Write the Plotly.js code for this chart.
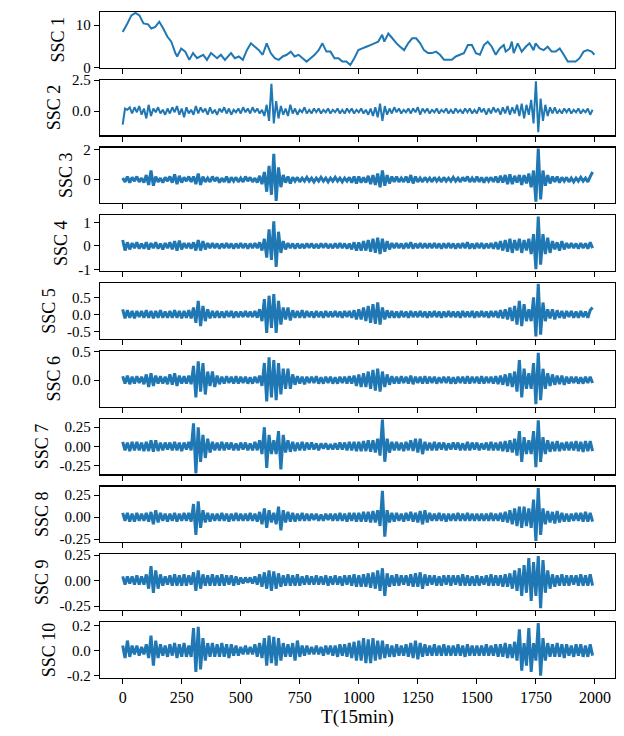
<!DOCTYPE html>
<html>
<head>
<meta charset="utf-8">
<script src="https://cdn.plot.ly/plotly-3.0.1.min.js"></script>
<style>html,body{margin:0;padding:0;background:#fff;}#chart{width:624px;height:736px;}</style>
</head>
<body>
<div id="chart"></div>
<script>
// ---------- DATA ----------
const xLabel = "T(15min)";
const seriesNames = ["SSC 1","SSC 2","SSC 3","SSC 4","SSC 5","SSC 6","SSC 7","SSC 8","SSC 9","SSC 10"];
const xTicks = [0,250,500,750,1000,1250,1500,1750,2000];

// SSC 1 (smooth component) read at irregular time positions
const ssc1X = [0,20,37,54,71,88,108,121,138,155,172,189,206,223,231,248,265,282,298,315,341,357,374,400,416,433,459,475,492,509,526,543,560,577,593,610,627,644,661,678,695,712,728,745,762,779,796,813,830,846,863,880,897,914,930,947,964,981,998,1015,1032,1049,1066,1082,1099,1108,1125,1142,1160,1175,1192,1209,1226,1243,1260,1276,1293,1310,1327,1344,1361,1378,1394,1411,1428,1445,1462,1479,1496,1513,1530,1546,1563,1580,1597,1614,1622,1639,1648,1656,1673,1690,1707,1723,1740,1749,1766,1783,1800,1817,1834,1851,1868,1885,1902,1918,1935,1952,1969,1986,1998];
const ssc1Y = [8.4,10.4,12.3,12.9,12.3,10.4,10.2,9.2,9.6,10.8,9.2,7.3,6.1,3.4,2.6,4.5,3.75,1.8,3.4,2.2,3.0,1.8,3.4,2.2,3.0,1.8,3.4,2.2,2.6,1.8,4.1,5.7,4.9,4.1,3.0,5.7,3.4,2.2,1.8,2.6,3.0,3.75,2.6,3.0,2.2,1.4,2.2,3.0,4.1,5.7,3.75,3.75,2.2,2.2,1.4,1.4,0.6,2.2,4.1,4.5,4.9,5.3,5.7,6.1,7.7,6.1,8.0,6.9,5.7,4.9,4.1,5.7,6.9,6.9,5.7,4.1,3.4,3.4,3.75,3.0,1.8,1.8,1.8,2.6,3.0,3.4,5.3,5.3,3.4,3.0,5.3,6.1,4.9,3.0,4.5,5.3,3.75,4.5,6.1,3.4,5.7,3.75,4.9,5.7,4.1,5.7,4.5,4.1,4.9,3.75,3.75,4.5,3.0,1.4,1.4,1.4,2.2,3.75,4.1,3.75,3.0];

// SSC 2..10 read every 10 time steps (t = 0, 10, ..., 1990)
const ssc2 = [-1.1,0.2,0.1,0.3,-0.2,0.3,-0.1,0.4,-0.3,0.2, -0.6,0.5,-0.4,0.2,-0.1,0.3,-0.2,0.1,-0.3,0.2, -0.2,0.3,-0.1,0.4,-0.3,0.2,-0.5,0.3,-0.2,0.1, -0.3,0.4,-0.2,0.3,-0.1,0.2,-0.3,0.3,-0.2,0.1, -0.3,0.2,-0.1,0.3,-0.2,0.2,-0.3,0.1,-0.1,0.2, -0.2,0.3,-0.1,0.2,-0.2,0.3,-0.1,0.2,-0.2,0.1, -0.4,0.5,-0.8,2.2,-1.0,0.8,-0.6,0.4,-0.3,0.2, -0.4,0.5,-0.2,0.2,-0.3,0.1,-0.1,0.3,-0.2,0.1, -0.2,0.2,-0.1,0.2,-0.2,0.1,-0.1,0.2,-0.2,0.1, -0.1,0.2,-0.2,0.1,-0.2,0.2,-0.1,0.2,-0.2,0.1, -0.1,0.2,-0.2,0.1,-0.3,0.2,-0.4,0.3,-0.5,0.6, -0.8,0.4,-0.3,0.2,-0.2,0.3,-0.1,0.2,-0.2,0.1, -0.1,0.2,-0.2,0.2,-0.1,0.3,-0.3,0.2,-0.1,0.2, -0.2,0.1,-0.1,0.2,-0.2,0.1,-0.1,0.2,-0.2,0.1, -0.2,0.2,-0.1,0.1,-0.2,0.2,-0.1,0.2,-0.2,0.1, -0.2,0.3,-0.1,0.2,-0.3,0.2,-0.2,0.3,-0.1,0.2, -0.3,0.3,-0.2,0.4,-0.3,0.3,-0.2,0.5,-0.4,0.6, -0.6,0.5,-0.3,0.9,-1.0,2.4,-1.7,1.0,-0.8,0.5, -0.4,0.3,-0.2,0.3,-0.2,0.1,-0.2,0.2,-0.1,0.2, -0.2,0.1,-0.1,0.2,-0.2,0.1,-0.1,0.2,-0.3,0.1];
const ssc3 = [0.1,-0.15,0.2,-0.2,0.15,-0.1,0.2,-0.15,0.1,-0.2, 0.3,-0.35,0.6,-0.4,0.2,-0.15,0.1,-0.2,0.15,-0.1, 0.2,-0.2,0.35,-0.3,0.25,-0.2,0.15,-0.1,0.2,-0.15, 0.2,-0.3,0.4,-0.35,0.2,-0.15,0.1,-0.15,0.2,-0.1, 0.15,-0.2,0.1,-0.15,0.2,-0.2,0.15,-0.1,0.15,-0.15, 0.1,-0.15,0.2,-0.1,0.15,-0.15,0.1,-0.2,0.25,-0.3, 0.5,-0.8,0.9,-1.0,1.7,-1.4,0.8,-0.5,0.3,-0.2, 0.2,-0.25,0.15,-0.1,0.15,-0.15,0.1,-0.1,0.15,-0.1, 0.1,-0.15,0.1,-0.1,0.15,-0.1,0.1,-0.15,0.1,-0.1, 0.15,-0.1,0.1,-0.15,0.1,-0.1,0.15,-0.2,0.2,-0.25, 0.2,-0.2,0.15,-0.2,0.25,-0.3,0.3,-0.35,0.4,-0.5, 0.6,-0.4,0.3,-0.25,0.2,-0.15,0.2,-0.15,0.1,-0.15, 0.2,-0.2,0.3,-0.25,0.2,-0.15,0.1,-0.15,0.15,-0.1, 0.1,-0.15,0.15,-0.1,0.1,-0.15,0.15,-0.1,0.1,-0.1, 0.15,-0.1,0.1,-0.15,0.15,-0.1,0.2,-0.15,0.1,-0.15, 0.2,-0.15,0.15,-0.2,0.15,-0.1,0.15,-0.15,0.2,-0.2, 0.25,-0.2,0.3,-0.3,0.35,-0.3,0.25,-0.2,0.3,-0.35, 0.3,-0.25,0.4,-0.5,0.6,-1.45,2.05,-1.3,0.6,-0.4, 0.3,-0.25,0.2,-0.15,0.2,-0.2,0.15,-0.1,0.15,-0.15, 0.1,-0.15,0.1,-0.1,0.15,-0.1,0.1,-0.15,0.2,0.5];
const ssc4 = [0.25,-0.2,0.15,-0.15,0.12,-0.1,0.15,-0.12,0.1,-0.12, 0.15,-0.15,0.12,-0.1,0.15,-0.12,0.1,-0.15,0.12,-0.1, 0.15,-0.15,0.2,-0.2,0.22,-0.15,0.12,-0.1,0.12,-0.12, 0.15,-0.2,0.25,-0.2,0.2,-0.15,0.12,-0.1,0.12,-0.1, 0.1,-0.12,0.1,-0.1,0.12,-0.1,0.1,-0.12,0.1,-0.1, 0.12,-0.1,0.1,-0.12,0.1,-0.1,0.12,-0.1,0.15,-0.2, 0.3,-0.5,0.7,-0.6,1.05,-0.9,0.6,-0.3,0.2,-0.15, 0.12,-0.1,0.1,-0.12,0.1,-0.1,0.08,-0.1,0.1,-0.08, 0.1,-0.1,0.08,-0.1,0.1,-0.08,0.1,-0.1,0.08,-0.1, 0.1,-0.1,0.12,-0.1,0.1,-0.12,0.1,-0.15,0.15,-0.2, 0.15,-0.2,0.2,-0.2,0.25,-0.25,0.3,-0.3,0.35,-0.35, 0.3,-0.25,0.2,-0.15,0.12,-0.1,0.12,-0.1,0.1,-0.12, 0.12,-0.1,0.15,-0.12,0.1,-0.1,0.12,-0.1,0.1,-0.1, 0.1,-0.1,0.12,-0.1,0.1,-0.12,0.1,-0.1,0.12,-0.1, 0.1,-0.12,0.1,-0.1,0.12,-0.1,0.15,-0.12,0.1,-0.12, 0.12,-0.1,0.12,-0.12,0.1,-0.1,0.12,-0.12,0.15,-0.15, 0.2,-0.2,0.25,-0.25,0.3,-0.3,0.25,-0.2,0.3,-0.3, 0.25,-0.2,0.3,-0.35,0.5,-1.0,1.25,-0.8,0.5,-0.35, 0.35,-0.3,0.2,-0.15,0.15,-0.2,0.2,-0.15,0.12,-0.1, 0.12,-0.1,0.1,-0.12,0.12,-0.1,0.1,-0.12,0.15,-0.1];
const ssc5 = [0.15,-0.12,0.12,-0.1,0.1,-0.12,0.1,-0.08,0.1,-0.1, 0.12,-0.1,0.1,-0.12,0.1,-0.1,0.12,-0.1,0.08,-0.1, 0.1,-0.1,0.12,-0.1,0.1,-0.12,0.1,-0.1,0.12,-0.12, 0.2,-0.25,0.4,-0.35,0.25,-0.2,0.15,-0.12,0.1,-0.1, 0.1,-0.1,0.08,-0.1,0.1,-0.08,0.1,-0.1,0.08,-0.08, 0.08,-0.08,0.1,-0.08,0.08,-0.08,0.1,-0.1,0.15,-0.2, 0.45,-0.55,0.55,-0.4,0.6,-0.55,0.4,-0.3,0.2,-0.15, 0.2,-0.18,0.12,-0.1,0.1,-0.1,0.12,-0.1,0.1,-0.08, 0.08,-0.1,0.1,-0.08,0.08,-0.1,0.1,-0.08,0.08,-0.08, 0.1,-0.08,0.08,-0.1,0.1,-0.08,0.1,-0.1,0.12,-0.15, 0.15,-0.15,0.2,-0.2,0.25,-0.25,0.3,-0.28,0.35,-0.3, 0.2,-0.15,0.12,-0.1,0.1,-0.1,0.08,-0.1,0.1,-0.08, 0.08,-0.1,0.1,-0.08,0.08,-0.08,0.1,-0.08,0.08,-0.1, 0.08,-0.08,0.1,-0.08,0.08,-0.1,0.08,-0.08,0.1,-0.08, 0.08,-0.08,0.08,-0.1,0.1,-0.08,0.08,-0.08,0.1,-0.1, 0.08,-0.08,0.1,-0.08,0.08,-0.1,0.1,-0.08,0.1,-0.1, 0.12,-0.12,0.15,-0.15,0.2,-0.2,0.25,-0.3,0.4,-0.35, 0.3,-0.2,0.15,-0.2,0.5,-0.65,0.9,-0.6,0.35,-0.2, 0.15,-0.12,0.15,-0.15,0.12,-0.1,0.1,-0.12,0.1,-0.08, 0.1,-0.1,0.08,-0.1,0.1,-0.08,0.08,-0.1,0.12,0.2];
const ssc6 = [0.07,-0.06,0.08,-0.07,0.06,-0.06,0.07,-0.05,0.06,-0.07, 0.1,-0.12,0.12,-0.1,0.08,-0.06,0.07,-0.06,0.06,-0.07, 0.1,-0.08,0.12,-0.1,0.08,-0.06,0.07,-0.06,0.08,-0.07, 0.25,-0.3,0.33,-0.2,0.3,-0.25,0.15,-0.1,0.15,-0.12, 0.08,-0.07,0.06,-0.06,0.07,-0.05,0.06,-0.06,0.07,-0.06, 0.06,-0.05,0.06,-0.06,0.05,-0.06,0.06,-0.05,0.08,-0.1, 0.3,-0.37,0.4,-0.3,0.35,-0.35,0.3,-0.25,0.2,-0.15, 0.2,-0.15,0.1,-0.08,0.07,-0.06,0.06,-0.07,0.06,-0.05, 0.06,-0.05,0.07,-0.06,0.05,-0.06,0.06,-0.05,0.06,-0.06, 0.05,-0.06,0.06,-0.05,0.06,-0.06,0.07,-0.06,0.08,-0.1, 0.1,-0.12,0.12,-0.12,0.15,-0.15,0.18,-0.18,0.2,-0.2, 0.15,-0.12,0.1,-0.08,0.07,-0.06,0.06,-0.06,0.07,-0.05, 0.06,-0.06,0.08,-0.07,0.06,-0.05,0.06,-0.06,0.07,-0.06, 0.06,-0.05,0.06,-0.06,0.05,-0.05,0.06,-0.05,0.06,-0.06, 0.05,-0.06,0.06,-0.05,0.06,-0.06,0.07,-0.06,0.06,-0.05, 0.06,-0.06,0.07,-0.06,0.06,-0.05,0.06,-0.06,0.07,-0.07, 0.08,-0.08,0.1,-0.1,0.12,-0.12,0.15,-0.2,0.35,-0.3, 0.2,-0.15,0.12,-0.15,0.3,-0.42,0.48,-0.35,0.2,-0.15, 0.12,-0.1,0.1,-0.08,0.08,-0.07,0.08,-0.08,0.06,-0.06, 0.06,-0.05,0.06,-0.06,0.05,-0.06,0.06,-0.05,0.06,-0.05];
const ssc7 = [0.06,-0.05,0.05,-0.06,0.06,-0.05,0.06,-0.05,0.05,-0.06, 0.06,-0.06,0.08,-0.07,0.08,-0.06,0.05,-0.05,0.05,-0.04, 0.05,-0.05,0.06,-0.05,0.05,-0.06,0.05,-0.04,0.06,-0.05, 0.3,-0.35,0.25,-0.2,0.15,-0.15,0.1,-0.08,0.06,-0.05, 0.05,-0.05,0.06,-0.05,0.05,-0.04,0.05,-0.05,0.04,-0.05, 0.05,-0.04,0.05,-0.05,0.04,-0.05,0.06,-0.05,0.08,-0.1, 0.25,-0.28,0.15,-0.1,0.08,-0.1,0.2,-0.3,0.15,-0.08, 0.08,-0.07,0.06,-0.06,0.05,-0.05,0.06,-0.05,0.05,-0.04, 0.05,-0.04,0.04,-0.05,0.04,-0.03,0.04,-0.04,0.03,-0.04, 0.04,-0.04,0.05,-0.04,0.05,-0.05,0.06,-0.05,0.06,-0.06, 0.06,-0.06,0.07,-0.06,0.08,-0.07,0.08,-0.08,0.1,-0.12, 0.35,-0.2,0.1,-0.08,0.06,-0.05,0.06,-0.05,0.05,-0.06, 0.06,-0.05,0.08,-0.06,0.1,-0.08,0.1,-0.1,0.06,-0.05, 0.05,-0.05,0.06,-0.05,0.05,-0.04,0.05,-0.05,0.04,-0.04, 0.05,-0.04,0.05,-0.05,0.04,-0.05,0.06,-0.05,0.05,-0.04, 0.05,-0.05,0.04,-0.04,0.05,-0.05,0.06,-0.05,0.05,-0.05, 0.06,-0.06,0.07,-0.07,0.08,-0.08,0.1,-0.12,0.2,-0.2, 0.12,-0.1,0.08,-0.1,0.2,-0.27,0.34,-0.2,0.12,-0.1, 0.08,-0.07,0.06,-0.06,0.07,-0.06,0.05,-0.05,0.06,-0.05, 0.06,-0.05,0.07,-0.06,0.06,-0.07,0.07,-0.06,0.07,-0.06];
const ssc8 = [0.05,-0.04,0.05,-0.05,0.04,-0.05,0.05,-0.04,0.04,-0.04, 0.05,-0.05,0.06,-0.08,0.08,-0.06,0.05,-0.04,0.04,-0.05, 0.04,-0.04,0.05,-0.05,0.04,-0.04,0.05,-0.04,0.05,-0.05, 0.15,-0.2,0.18,-0.12,0.08,-0.06,0.05,-0.05,0.04,-0.04, 0.04,-0.04,0.05,-0.04,0.04,-0.05,0.04,-0.04,0.05,-0.04, 0.04,-0.04,0.04,-0.04,0.05,-0.04,0.04,-0.05,0.06,-0.08, 0.1,-0.12,0.08,-0.06,0.05,-0.08,0.12,-0.15,0.08,-0.06, 0.06,-0.05,0.05,-0.05,0.04,-0.04,0.05,-0.04,0.04,-0.04, 0.04,-0.03,0.04,-0.04,0.03,-0.04,0.04,-0.03,0.04,-0.04, 0.04,-0.04,0.05,-0.04,0.04,-0.05,0.05,-0.04,0.05,-0.05, 0.05,-0.05,0.06,-0.05,0.06,-0.06,0.07,-0.06,0.08,-0.1, 0.3,-0.22,0.08,-0.06,0.05,-0.05,0.05,-0.04,0.04,-0.05, 0.05,-0.04,0.06,-0.05,0.05,-0.06,0.07,-0.08,0.08,-0.06, 0.05,-0.04,0.04,-0.04,0.05,-0.04,0.04,-0.05,0.04,-0.04, 0.04,-0.04,0.05,-0.04,0.04,-0.04,0.05,-0.04,0.04,-0.04, 0.04,-0.04,0.04,-0.04,0.04,-0.04,0.05,-0.04,0.04,-0.04, 0.05,-0.05,0.06,-0.06,0.08,-0.08,0.1,-0.1,0.12,-0.12, 0.12,-0.1,0.1,-0.12,0.2,-0.27,0.33,-0.2,0.1,-0.08, 0.07,-0.06,0.06,-0.07,0.07,-0.06,0.05,-0.05,0.04,-0.05, 0.04,-0.04,0.05,-0.04,0.05,-0.05,0.06,-0.05,0.05,-0.05];
const ssc9 = [0.04,-0.04,0.04,-0.03,0.04,-0.04,0.05,-0.04,0.04,-0.04, 0.06,-0.08,0.14,-0.12,0.1,-0.08,0.06,-0.05,0.04,-0.04, 0.05,-0.05,0.06,-0.05,0.05,-0.05,0.06,-0.05,0.05,-0.04, 0.08,-0.1,0.1,-0.08,0.06,-0.05,0.05,-0.05,0.06,-0.05, 0.05,-0.05,0.06,-0.05,0.05,-0.04,0.05,-0.05,0.04,-0.04, 0.03,-0.03,0.03,-0.02,0.03,-0.03,0.04,-0.04,0.06,-0.06, 0.08,-0.08,0.1,-0.1,0.09,-0.08,0.07,-0.06,0.05,-0.05, 0.06,-0.05,0.05,-0.05,0.06,-0.05,0.04,-0.04,0.05,-0.04, 0.04,-0.04,0.05,-0.04,0.04,-0.04,0.05,-0.05,0.04,-0.04, 0.05,-0.04,0.04,-0.05,0.05,-0.04,0.05,-0.05,0.06,-0.06, 0.05,-0.06,0.06,-0.06,0.07,-0.07,0.08,-0.08,0.1,-0.1, 0.12,-0.15,0.07,-0.06,0.05,-0.05,0.06,-0.05,0.05,-0.04, 0.05,-0.05,0.06,-0.06,0.07,-0.06,0.08,-0.08,0.06,-0.05, 0.05,-0.04,0.05,-0.05,0.04,-0.05,0.05,-0.04,0.05,-0.05, 0.05,-0.04,0.05,-0.05,0.06,-0.05,0.05,-0.05,0.04,-0.05, 0.05,-0.05,0.04,-0.04,0.05,-0.05,0.06,-0.05,0.05,-0.05, 0.05,-0.06,0.06,-0.06,0.07,-0.08,0.1,-0.1,0.12,-0.15, 0.15,-0.12,0.22,-0.2,0.18,-0.15,0.24,-0.27,0.2,-0.12, 0.1,-0.08,0.06,-0.06,0.05,-0.05,0.06,-0.05,0.05,-0.05, 0.05,-0.04,0.05,-0.05,0.06,-0.05,0.05,-0.05,0.06,-0.05];
const ssc10 = [0.04,-0.06,0.08,-0.05,0.04,-0.03,0.04,-0.04,0.03,-0.03, 0.05,-0.06,0.12,-0.12,0.08,-0.06,0.05,-0.04,0.04,-0.05, 0.05,-0.04,0.06,-0.06,0.05,-0.05,0.06,-0.05,0.04,-0.05, 0.18,-0.17,0.19,-0.15,0.1,-0.08,0.06,-0.05,0.06,-0.05, 0.05,-0.05,0.06,-0.05,0.05,-0.06,0.05,-0.04,0.04,-0.04, 0.03,-0.03,0.04,-0.03,0.03,-0.03,0.05,-0.05,0.06,-0.06, 0.1,-0.12,0.12,-0.1,0.11,-0.12,0.1,-0.08,0.06,-0.05, 0.05,-0.05,0.06,-0.08,0.08,-0.05,0.04,-0.04,0.04,-0.03, 0.03,-0.03,0.04,-0.03,0.03,-0.04,0.04,-0.03,0.04,-0.04, 0.04,-0.05,0.05,-0.04,0.05,-0.05,0.06,-0.06,0.07,-0.08, 0.08,-0.08,0.1,-0.1,0.09,-0.1,0.1,-0.08,0.08,-0.07, 0.08,-0.06,0.05,-0.05,0.04,-0.05,0.05,-0.04,0.04,-0.04, 0.05,-0.05,0.06,-0.06,0.08,-0.07,0.06,-0.05,0.05,-0.04, 0.04,-0.04,0.05,-0.04,0.04,-0.04,0.05,-0.04,0.04,-0.04, 0.04,-0.04,0.05,-0.04,0.04,-0.05,0.05,-0.04,0.04,-0.04, 0.04,-0.04,0.04,-0.04,0.05,-0.04,0.04,-0.04,0.05,-0.05, 0.05,-0.05,0.06,-0.06,0.05,-0.06,0.07,-0.08,0.17,-0.16, 0.06,-0.12,0.18,-0.17,0.06,-0.08,0.22,-0.2,0.1,-0.08, 0.06,-0.05,0.05,-0.05,0.06,-0.05,0.05,-0.06,0.05,-0.04, 0.04,-0.05,0.05,-0.04,0.05,-0.05,0.04,-0.05,0.05,-0.04];

// y tick values and labels per panel
const yTickVals = [[0,10],[0,2.5],[0,2],[-1,0,1],[-0.5,0,0.5],[0,0.5],[-0.25,0,0.25],[-0.25,0,0.25],[-0.25,0,0.25],[-0.2,0,0.2]];
const yTickText = [["0","10"],["0.0","2.5"],["0","2"],["-1","0","1"],["-0.5","0.0","0.5"],["0.0","0.5"],["-0.25","0.00","0.25"],["-0.25","0.00","0.25"],["-0.25","0.00","0.25"],["-0.2","0.0","0.2"]];
const yRanges = [[0,13.1],[-1.96,2.52],[-1.55,2.11],[-1.07,1.30],[-0.72,0.92],[-0.46,0.51],[-0.363,0.36],[-0.283,0.348],[-0.288,0.256],[-0.217,0.227]];

// ---------- PLOT ----------
const oscSeries = [ssc2,ssc3,ssc4,ssc5,ssc6,ssc7,ssc8,ssc9,ssc10];
const lineWidths = [2, 2, 3, 3, 3, 3, 3, 3, 3, 3];
const stepX = ssc2.map((_, k) => k * 10);
const color = '#1f77b4';
const fontFam = '"Liberation Serif", "Times New Roman", serif';

const traces = [];
traces.push({x: ssc1X, y: ssc1Y, type: 'scatter', mode: 'lines', line: {color: color, width: lineWidths[0], simplify: false}, xaxis: 'x', yaxis: 'y', hoverinfo: 'skip'});
oscSeries.forEach((s, k) => {
  const n = k + 2;
  traces.push({x: stepX, y: s, type: 'scatter', mode: 'lines', line: {color: color, width: lineWidths[k + 1], simplify: false, shape: 'linear'}, xaxis: 'x' + n, yaxis: 'y' + n, hoverinfo: 'skip'});
});

const W = 624, H = 736;
const mL = 100, mR = 9, mT = 12, mB = 58;
const plotH = H - mT - mB;
const boxH = 55.5, pitch = 67.8;

const layout = {
  width: W, height: H,
  margin: {l: mL, r: mR, t: mT, b: mB},
  paper_bgcolor: '#fff', plot_bgcolor: '#fff',
  showlegend: false,
  font: {family: fontFam, color: '#000', size: 15}
};

for (let i = 0; i < 10; i++) {
  const n = i + 1;
  const suf = n === 1 ? '' : String(n);
  const top = 1 - (i * pitch) / plotH;
  const bot = 1 - (i * pitch + boxH) / plotH;
  layout['xaxis' + suf] = {
    domain: [0, 1], anchor: 'y' + suf,
    range: [-96, 2085],
    tickvals: xTicks, ticktext: xTicks.map(String),
    showticklabels: n === 10,
    ticks: 'outside', ticklen: 5, tickwidth: 1, tickcolor: '#000',
    showline: true, linecolor: '#000', linewidth: 1.2, mirror: true,
    showgrid: false, zeroline: false,
    tickfont: {family: fontFam, size: 16, color: '#000'},
    title: n === 10 ? {text: xLabel, font: {family: fontFam, size: 19, color: '#000'}, standoff: 4} : undefined
  };
  if (n !== 1) layout['xaxis' + suf].matches = 'x';
  layout['yaxis' + suf] = {
    domain: [bot, top], anchor: 'x' + suf,
    range: yRanges[i],
    tickvals: yTickVals[i], ticktext: yTickText[i],
    ticks: 'outside', ticklen: 5, tickwidth: 1, tickcolor: '#000',
    showline: true, linecolor: '#000', linewidth: 1.2, mirror: true,
    showgrid: false, zeroline: false,
    tickfont: {family: fontFam, size: 15, color: '#000'},
    title: {text: seriesNames[i], font: {family: fontFam, size: 18, color: '#000'}, standoff: 6}
  };
}

Plotly.newPlot('chart', traces, layout, {displayModeBar: false, staticPlot: true});
</script>
</body>
</html>
